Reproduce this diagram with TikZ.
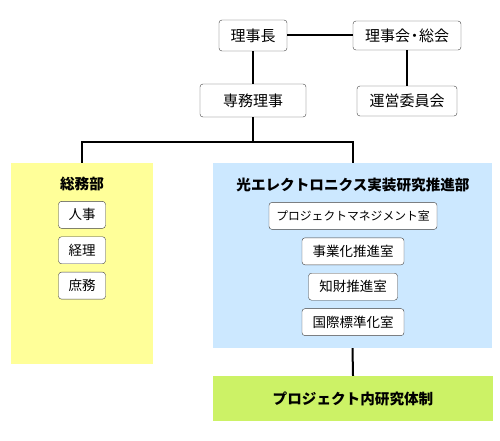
\documentclass[tikz,border=0pt]{standalone}
\usepackage{fontspec}
\setmainfont{Noto Sans CJK JP}
\usepackage{tikz}
\usetikzlibrary{positioning, calc}
\definecolor{somuyellow}{RGB}{255,255,153}
\definecolor{hikariblue}{RGB}{204,232,255}
\definecolor{kenkyugreen}{RGB}{204,242,102}
\tikzset{
	post/.style={rectangle, draw=black!75, rounded corners=3pt, fill=white, inner sep=0pt, font=\fontsize{15}{17}\selectfont},
	room/.style={post, minimum height=27pt, font=\fontsize{13.5}{15}\selectfont},
	dept/.style={rectangle, inner sep=0pt},
	conn/.style={draw, line width=2pt}
}

\begin{document}
\begin{tikzpicture}[
	x=1pt, y=-1pt,
	node distance = 8pt,
	title/.style = {font=\bfseries\fontsize{14.6}{16}\selectfont, inner sep=0pt}
	]
	\useasboundingbox (0,0) rectangle (500,441);
	
	% Top: board
	\node[post, minimum width=68pt, minimum height=31pt] (rijicho) at (253,35.5) {理事長};
	\node[post, minimum width=108pt, minimum height=29pt] (rijikai) at (407,35.5) {理事会\kern-3pt・\kern-3pt総会};
	\node[post, minimum width=106pt, minimum height=33pt] (senmu) at (253,100.5) {専務理事};
	\node[post, minimum width=100pt, minimum height=30pt] (unei) at (407,101) {運営委員会};
	
	% Departments
	\node[dept, fill=somuyellow, minimum width=142pt, minimum height=201pt] (somu) at (82,263.5) {};
	\node[dept, fill=hikariblue, minimum width=279pt, minimum height=185pt] (hikari) at (352.5,255.5) {};
	\node[dept, fill=kenkyugreen, minimum width=280pt, minimum height=45pt] (kenkyu) at (353,398.5) {};
	
	% Left: general affairs
	\node[title] (somut) at (82,184) {総務部};
	\node[room, minimum width=47pt, below=10pt of somut] (jinji) {人事};
	\node[room, minimum width=47pt, below=of jinji] (keiri) {経理};
	\node[room, minimum width=47pt, below=of keiri] (shomu) {庶務};
	
	% Right: promotion department
	\node[title] (hikarit) at (353,185) {光エレクトロニクス実装研究推進部};
	\node[room, minimum width=168pt, font=\fontsize{11.8}{13}\selectfont, below=10pt of hikarit] (pm) {プロジェクトマネジメント室};
	\node[room, minimum width=102pt, below=of pm] (jigyo) {事業化推進室};
	\node[room, minimum width=89pt, below=of jigyo] (chizai) {知財推進室};
	\node[room, minimum width=102pt, below=of chizai] (kokusai) {国際標準化室};
	
	\node[title] (kenkyut) at (kenkyu) {プロジェクト内研究体制};
	
	% Connectors
	\coordinate (br) at (253,142);
	\draw[conn] (rijicho) -- (rijikai);
	\draw[conn] (rijicho) -- (senmu);
	\draw[conn] (rijikai) -- (unei);
	\draw[conn] (senmu) -- (br);
	\draw[conn] (somu.north) |- (br) -| (hikari.north);
	\draw[conn] (hikari.south) -- (kenkyu.north);
	
\end{tikzpicture}
\end{document}
